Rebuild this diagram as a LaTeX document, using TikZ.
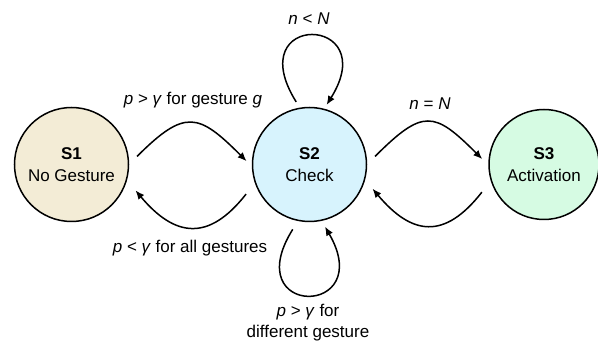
\documentclass[tikz,border=0pt]{standalone}
\usepackage{fontspec}
\setmainfont{Liberation Sans}
\usetikzlibrary{arrows.meta,automata,positioning,calc}
\definecolor{idlefill}{RGB}{243,236,214}
\definecolor{checkfill}{RGB}{215,243,253}
\definecolor{actfill}{RGB}{214,251,227}
\begin{document}
\begin{tikzpicture}[x=1pt,y=1pt,node distance=238pt,on grid,
  >={Latex[length=9pt,width=7.5pt]},
  every state/.style={draw=black,line width=1.5pt,minimum size=114pt,inner sep=0pt,
    align=center,font=\fontsize{17}{22.4}\selectfont},
  trans/.style={->,line width=1.5pt},
  lbl/.style={font=\fontsize{17}{21.7}\selectfont,inner sep=0pt,anchor=base}]
\useasboundingbox (0,0) rectangle (598,343);
\node[state,fill=idlefill] (s1) at (71.5,178.5) {\textbf{S1}\\No Gesture};
\node[state,fill=checkfill] (s2) [right=of s1] {\textbf{S2}\\Check};
\node[state,fill=actfill,minimum size=110pt] (s3) [right=234.5pt of s2] {\textbf{S3}\\Activation};
% S1 <-> S2
\draw[trans] ($(s1)+(7:66)$) .. controls +(45:68) and +(135:68) .. ($(s2)+(177:63)$);
\draw[trans] ($(s2)+(205:70)$) .. controls +(232:61) and +(310:61) .. ($(s1)+(338:69)$);
% S2 <-> S3
\draw[trans] ($(s2)+(7:66)$) .. controls +(45:68) and +(135:68) .. ($(s3)+(175:62)$);
\draw[trans] ($(s3)+(204:68)$) .. controls +(232:61) and +(310:61) .. ($(s2)+(339:67.5)$);
% loops on S2
\draw[trans] ($(s2)+(102:64)$) .. controls +(122:107) and +(58:107) .. ($(s2)+(74:62)$);
\draw[trans] ($(s2)+(255.5:67)$) .. controls +(238:105) and +(300:105) .. ($(s2)+(284:64)$);
% labels
\node[lbl] (nless) at (309,318) {\textit{n} < \textit{N}};
\node[lbl] (pgest) at (193,238) {\textit{p} > \textit{γ} for gesture \textit{g}};
\node[lbl] (nequal) at (430,233) {\textit{n} = \textit{N}};
\node[lbl] (pall) at (190,90) {\textit{p} < \textit{γ} for all gestures};
\node[lbl,anchor=north,align=center] (pdiff) at (308,39.5) {\textit{p} > \textit{γ} for\\different gesture};
\end{tikzpicture}
\end{document}
